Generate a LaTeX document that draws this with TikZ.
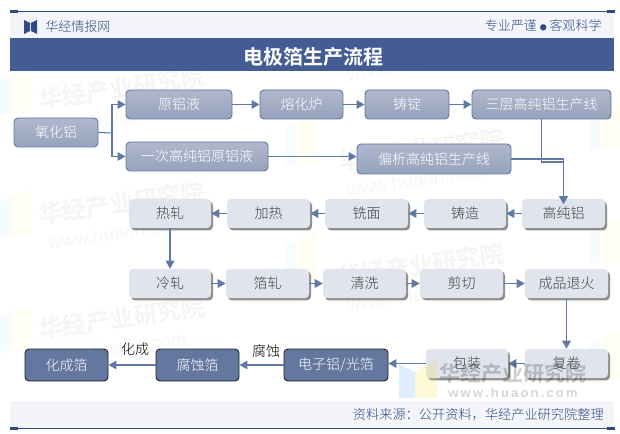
\documentclass[tikz,border=0pt]{standalone}
\usepackage{fontspec}
\setmainfont[UprightFont=* Light,BoldFont=* Bold]{Noto Sans CJK SC}
\newfontfamily\latn{Liberation Sans}
\usetikzlibrary{arrows.meta,shadows}
\definecolor{navy}{HTML}{435C94}
\definecolor{navyline}{HTML}{2F4B85}
\definecolor{band}{HTML}{F3F5FA}
\definecolor{conn}{HTML}{6079A5}
\definecolor{lightbox}{HTML}{E0E4ED}
\definecolor{darkbox}{HTML}{64789F}
\definecolor{midtop}{HTML}{B0B8CC}
\definecolor{midbot}{HTML}{96A2BC}
\newcommand{\fs}[1]{\pgfmathsetmacro{\fsz}{#1*0.75}\fontsize{\fsz pt}{\fsz pt}\selectfont}
\newcommand{\bx}[7]{%
  \pgfmathsetmacro{\bw}{(#5-#3)*0.75}\pgfmathsetmacro{\bh}{(#6-#4)*0.75}%
  \node[#1,minimum width=\bw pt,minimum height=\bh pt] (#2) at ({(#3+#5)/2},{(#4+#6)/2}) {#7};}
\tikzset{
  base/.style={rounded corners=3pt,inner sep=0pt,font=\fs{14}},
  midbox/.style={base,draw=conn,line width=0.7pt,top color=midtop,bottom color=midbot,text=white},
  lightb/.style={base,fill=lightbox,text=black!75,drop shadow={shadow xshift=1.5pt,shadow yshift=-1.8pt,fill=black!55,opacity=.8}},
  darkb/.style={base,fill=darkbox,draw=black!70!darkbox,line width=0.7pt,text=white},
  flow/.style={draw=conn,line width=0.8pt,-{Triangle[length=6pt,width=6.5pt]}},
  wm/.style={text=black!4,font=\fs{24}\bfseries,rotate=8,inner sep=0pt},
  wmw/.style={text=black!3,font=\latn\fs{19},rotate=8,inner sep=0pt},
  lbl/.style={text=black,font=\fs{14},inner sep=0pt},
  headtxt/.style={text=navyline,inner sep=0pt,font=\fs{13}},
}
\begin{document}
\begin{tikzpicture}[x=0.75pt,y=-0.75pt]
\useasboundingbox (0,0) rectangle (620,434);
\fill[white] (0,0) rectangle (620,434);
% faint repeated watermark
\foreach \lx/\ly in {0/75,0/197,0/312,285/125,285/240,590/110,590/225,590/340}{
  \fill[blue!40!cyan,opacity=.035] (\lx,\ly+5) -- (\lx+10,\ly) -- (\lx+10,\ly+38) -- (\lx,\ly+42) -- cycle;
  \fill[yellow,opacity=.05] (\lx+10,\ly) -- (\lx+30,\ly-8) -- (\lx+30,\ly+38) -- (\lx+10,\ly+38) -- cycle;
}
\foreach \wx/\wy in {122/88,122/203,122/318,421/35,421/150,421/265}{
  \node[wm] at (\wx,\wy) {华经产业研究院};
  \node[wmw] at (\wx-5,\wy+30) {www.huaon.com};
}
% header and footer
\fill[band] (10,12) rectangle (614,38);
\fill[navy] (10,38) rectangle (614,71);
\fill[band] (10,401) rectangle (614,428);
\draw[navyline,line width=0.7pt] (10,11.5) -- (614,11.5);
\draw[navyline,line width=0.7pt] (10,428.5) -- (614,428.5);
\fill[navyline] (10,10) rectangle (18,13);
\fill[navyline] (607,10) rectangle (615,13);
\fill[navyline] (10,427) rectangle (18,430);
\fill[navyline] (607,427) rectangle (615,430);
\fill[navyline] (24,20) -- (30,23) -- (30,31) -- (24,34) -- cycle;
\fill[navyline] (37,20) -- (31,23) -- (31,31) -- (37,34) -- cycle;
\node[headtxt,anchor=west] (brand) at (45,27) {华经情报网};
\node[headtxt,anchor=east] (motto) at (602,26) {专业严谨 {\fs{7}●} 客观科学};
\node[inner sep=0pt,text=white,font=\fs{20}\bfseries] (title) at (313,56.5) {电极箔生产流程};
\node[headtxt,anchor=east,font=\fs{13.2}] (source) at (604,415) {资料来源：公开资料，华经产业研究院整理};
% boxes
\bx{midbox}{yh}{14}{118}{98}{147}{氧化铝}
\bx{midbox}{yly}{126}{90}{232}{119}{原铝液}
\bx{midbox}{ycg}{126}{142}{268}{171}{一次高纯铝原铝液}
\bx{midbox}{rhl}{260}{90}{343}{119}{熔化炉}
\bx{midbox}{zd}{365}{90}{449}{119}{铸锭}
\bx{midbox}{scg}{472}{90}{611}{119}{三层高纯铝生产线}
\bx{midbox}{pxg}{357}{144}{511}{174}{偏析高纯铝生产线}
\bx{lightb}{gcl}{522}{199}{605}{228}{高纯铝}
\bx{lightb}{zz}{424}{199}{506}{228}{铸造}
\bx{lightb}{xm}{325}{199}{408}{228}{铣面}
\bx{lightb}{jr}{227}{199}{310}{228}{加热}
\bx{lightb}{rz}{129}{199}{211}{228}{热轧}
\bx{lightb}{lz}{129}{269}{211}{298}{冷轧}
\bx{lightb}{bz}{226}{269}{309}{298}{箔轧}
\bx{lightb}{qx}{323}{269}{406}{298}{清洗}
\bx{lightb}{jq}{420}{269}{503}{298}{剪切}
\bx{lightb}{cp}{525}{269}{608}{298}{成品退火}
\bx{lightb}{fj}{525}{349}{608}{378}{复卷}
\bx{lightb}{bzh}{426}{349}{508}{378}{包装}
\bx{darkb}{dz}{284}{349}{388}{381}{电子铝/光箔}
\bx{darkb}{fs}{156}{349}{239}{381}{腐蚀箔}
\bx{darkb}{hc}{25}{349}{108}{381}{化成箔}
% connectors
\coordinate (split) at (112,133);
\coordinate (join) at (563.5,162);
\draw[draw=conn,line width=0.8pt] (yh.east) -- (split);
\draw[flow] (split) |- (yly.west);
\draw[flow] (split) |- (ycg.west);
\draw[flow] (yly) -- (rhl);
\draw[flow] (rhl) -- (zd);
\draw[flow] (zd) -- (scg);
\draw[flow] (ycg.east) -- (ycg.east -| pxg.west);
\draw[flow,shorten >=-4pt] (scg.south) |- (join) -- (gcl.north);
\draw[flow,shorten >=-4pt] (pxg.east) -| (gcl.north);
\draw[flow] (gcl) -- (zz);
\draw[flow] (zz) -- (xm);
\draw[flow] (xm) -- (jr);
\draw[flow] (jr) -- (rz);
\draw[flow] (rz) -- (lz);
\draw[flow] (lz) -- (bz);
\draw[flow] (bz) -- (qx);
\draw[flow] (qx) -- (jq);
\draw[flow] (jq) -- (cp);
\draw[flow] (cp) -- (fj);
\draw[flow] (fj) -- (bzh);
\draw[flow] (bzh.west) -- (bzh.west -| dz.east);
\draw[flow] (dz) -- (fs);
\draw[flow] (fs) -- (hc);
\node[lbl] (lhc) at (135,349) {化成};
\node[lbl] (lfs) at (266,351) {腐蚀};
% strong watermark lies over the boxes
\fill[blue!50!cyan,opacity=.13] (399,364) -- (415,372) -- (415,398) -- (399,398) -- cycle;
\fill[yellow!80!orange,opacity=.16] (415,372) -- (437,360) -- (437,398) -- (415,398) -- cycle;
\node[inner sep=0pt,text=black,opacity=.2,font=\fs{21}\bfseries] (wmark) at (513,374) {华经产业研究院};
\node[inner sep=0pt,text=black,opacity=.16,font=\latn\fs{13}\bfseries] (wmarkw) at (513,393) {w\,w\,w\,.\,h\,u\,a\,o\,n\,.\,c\,o\,m};
\end{tikzpicture}
\end{document}
